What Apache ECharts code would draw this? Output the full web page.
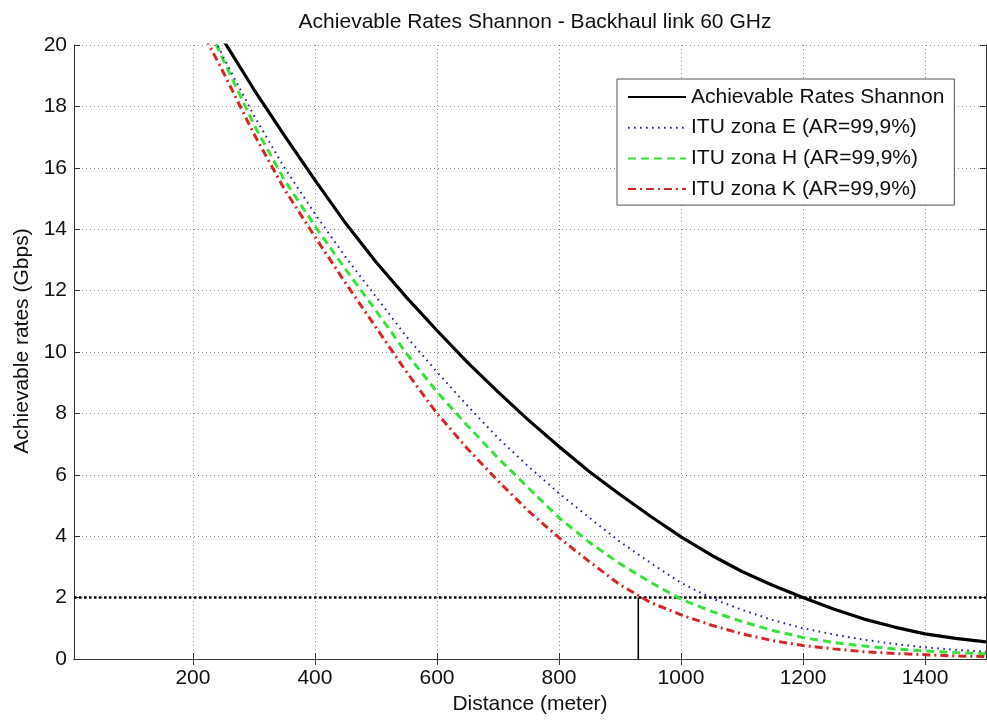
<!DOCTYPE html>
<html><head><meta charset="utf-8">
<script src="https://cdn.jsdelivr.net/npm/echarts@6/dist/echarts.min.js"></script>
<style>html,body{margin:0;padding:0;background:#fff}#c{width:987px;height:720px}</style>
</head><body><div id="c"></div>
<script>
const distances = [220,250,300,350,400,450,500,550,600,650,700,750,800,850,900,950,1000,1050,1100,1150,1200,1250,1300,1350,1400,1450,1500];
const shannon = [21.1,20.15,18.55,17.05,15.6,14.2,12.93,11.78,10.7,9.66,8.7,7.78,6.92,6.1,5.36,4.65,3.98,3.38,2.85,2.4,2.0,1.63,1.3,1.04,0.82,0.67,0.56];
const ituE = [20.85,19.6,17.7,16.0,14.5,13.1,11.8,10.5,9.35,8.25,7.2,6.27,5.4,4.6,3.82,3.13,2.48,1.98,1.6,1.27,1.0,0.8,0.63,0.49,0.38,0.3,0.24];
const ituH = [20.8,19.5,17.4,15.6,14.1,12.7,11.35,9.95,8.7,7.6,6.55,5.57,4.6,3.8,3.1,2.5,1.95,1.55,1.22,0.93,0.7,0.54,0.42,0.33,0.26,0.21,0.17];
const ituK = [20.25,19.1,17.1,15.3,13.75,12.25,10.8,9.35,8.0,6.85,5.8,4.82,3.95,3.17,2.42,1.84,1.44,1.1,0.82,0.6,0.44,0.33,0.24,0.18,0.14,0.1,0.08];
const seriesNames = ['Achievable Rates Shannon','ITU zona E (AR=99,9%)','ITU zona H (AR=99,9%)','ITU zona K (AR=99,9%)'];
const xTickValues = [200,400,600,800,1000,1200,1400];
const xRange = [5,1500];
const yRange = [0,20];
const yInterval = 2;
const threshold = 2;
const crossingDistance = 930;

const FONT = "'Liberation Sans', Arial, sans-serif";
const pairs = arr => distances.map((d,i)=>[d, arr[i]]);
const chart = echarts.init(document.getElementById('c'), null, {renderer:'canvas'});

const axisLineStyle = {color:'#333', width:1};
const gridLine = {show:true, lineStyle:{color:'#8a8a8a', width:1, type:[1,3]}};

const option = {
  animation:false,
  backgroundColor:'#fff',
  textStyle:{fontFamily:FONT},
  title:{
    text:'Achievable Rates Shannon - Backhaul link 60 GHz',
    left:530, textAlign:'center', top:7,
    textStyle:{fontFamily:FONT, fontSize:21, fontWeight:'normal', color:'#111'}
  },
  grid:{left:74, right:1, top:45, bottom:59, containLabel:false},
  legend:{
    data:seriesNames,
    orient:'vertical', left:617, top:79,
    padding:[7,10,5,10], itemGap:8.7,
    itemWidth:58, itemHeight:14,
    backgroundColor:'#fff', borderColor:'#555', borderWidth:1,
    itemStyle:{opacity:0},
    textStyle:{fontFamily:FONT, fontSize:21, color:'#111', lineHeight:22}
  },
  xAxis:[{
    type:'value', min:xRange[0], max:xRange[1], position:'bottom',
    name:'Distance (meter)', nameLocation:'middle', nameGap:35,
    nameTextStyle:{fontFamily:FONT, fontSize:21, color:'#111'},
    axisLine:{show:true, lineStyle:axisLineStyle},
    axisTick:{show:true, inside:true, length:6, customValues:xTickValues, lineStyle:axisLineStyle},
    axisLabel:{show:true, margin:9, customValues:xTickValues, fontFamily:FONT, fontSize:21, color:'#111',
      formatter: v => String(v)},
    splitLine:gridLine
  },{
    type:'value', min:xRange[0], max:xRange[1], position:'top',
    axisLine:{show:true, lineStyle:axisLineStyle},
    axisTick:{show:true, inside:true, length:6, customValues:xTickValues, lineStyle:axisLineStyle},
    axisLabel:{show:false}, splitLine:{show:false}
  }],
  yAxis:[{
    type:'value', min:yRange[0], max:yRange[1], interval:yInterval, position:'left',
    name:'Achievable rates (Gbps)', nameLocation:'middle', nameGap:40,
    nameTextStyle:{fontFamily:FONT, fontSize:21, color:'#111', padding:[0,0,0,22]},
    axisLine:{show:true, lineStyle:axisLineStyle},
    axisTick:{show:true, inside:true, length:6, lineStyle:axisLineStyle},
    axisLabel:{show:true, margin:7, fontFamily:FONT, fontSize:21, color:'#111'},
    splitLine:gridLine
  },{
    type:'value', min:yRange[0], max:yRange[1], interval:yInterval, position:'right',
    axisLine:{show:true, lineStyle:axisLineStyle},
    axisTick:{show:true, inside:true, length:6, lineStyle:axisLineStyle},
    axisLabel:{show:false}, splitLine:{show:false}
  }],
  series:[
    {name:'threshold', type:'line', data:[[xRange[0],threshold],[xRange[1],threshold]], symbol:'none', silent:true,
     lineStyle:{color:'#000', width:2.5, type:[2.5,2.5]}, z:1},
    {name:'crossing', type:'line', data:[[crossingDistance,yRange[0]],[crossingDistance,threshold]], symbol:'none', silent:true,
     lineStyle:{color:'#000', width:1.6}, z:1},
    {name:seriesNames[0], type:'line', data:pairs(shannon), symbol:'none', smooth:false,
     lineStyle:{color:'#000', width:3.2}, itemStyle:{color:'#000'}, z:5},
    {name:seriesNames[1], type:'line', data:pairs(ituE), symbol:'none', smooth:false,
     lineStyle:{color:'#25258a', width:2, type:[1.6,4.4]}, itemStyle:{color:'#25258a'}, z:4},
    {name:seriesNames[2], type:'line', data:pairs(ituH), symbol:'none', smooth:false,
     lineStyle:{color:'#3ce03c', width:3, type:[8,5]}, itemStyle:{color:'#3ce03c'}, z:3},
    {name:seriesNames[3], type:'line', data:pairs(ituK), symbol:'none', smooth:false,
     lineStyle:{color:'#d42828', width:3, type:[8,4,2,4]}, itemStyle:{color:'#d42828'}, z:2}
  ]
};
chart.setOption(option);
</script></body></html>
